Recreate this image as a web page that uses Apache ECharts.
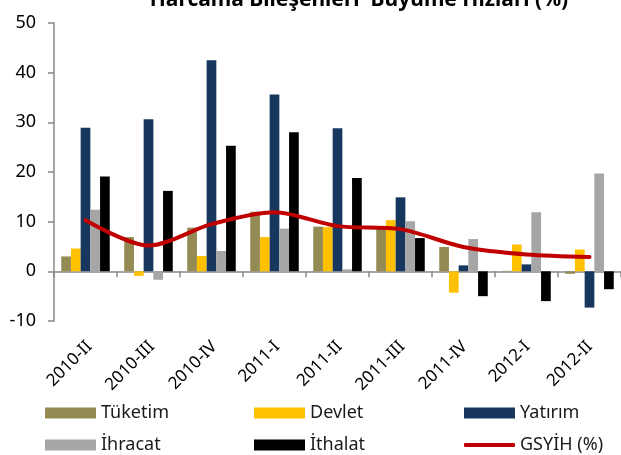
<!DOCTYPE html>
<html>
<head>
<meta charset="utf-8">
<script src="https://cdn.jsdelivr.net/npm/echarts@6/dist/echarts.min.js"></script>
<style>
html,body{margin:0;padding:0;background:#fff;}
#c{width:621px;height:455px;}
</style>
</head>
<body>
<div id="c"></div>
<script>
var categories = ['2010-II','2010-III','2010-IV','2011-I','2011-II','2011-III','2011-IV','2012-I','2012-II'];
var tuketim = [3.0, 6.9, 8.8, 12.0, 9.0, 8.7, 4.9, 0.1, -0.5];
var devlet  = [4.6, -0.9, 3.1, 6.9, 8.9, 10.3, -4.3, 5.4, 4.4];
var yatirim = [28.9, 30.6, 42.5, 35.6, 28.8, 14.9, 1.2, 1.4, -7.3];
var ihracat = [12.4, -1.7, 4.1, 8.6, 0.4, 10.1, 6.5, 11.9, 19.7];
var ithalat = [19.1, 16.2, 25.3, 28.0, 18.8, 6.7, -5.0, -6.0, -3.6];
var gsyih   = [10.3, 5.2, 9.5, 11.9, 9.1, 8.5, 4.9, 3.4, 2.9];
var yTicks = [-10, 0, 10, 20, 30, 40, 50];

var FONT = 'Noto Sans';
var chart = echarts.init(document.getElementById('c'), null, {renderer:'canvas'});
function bar(name, data, color){
  return {name:name, type:'bar', data:data, xAxisIndex:0, yAxisIndex:0,
    barGap:'0%', barCategoryGap:'23%', itemStyle:{color:color}};
}
var legText = {fontSize:18, color:'#1a1a1a', fontFamily:FONT};
function leg(left, top, names, h){
  return {left:left, top:top, orient:'vertical', itemGap:14, itemWidth:51, itemHeight:h, padding:0,
    textStyle:legText, data:names};
}
chart.setOption({
  animation:false,
  textStyle:{fontFamily:FONT},
  title:{text:"Harcama Bileşenleri' Büyüme Hızları (%)", left:354, textAlign:'center', top:-15,
    textStyle:{fontFamily:FONT, fontSize:21, fontWeight:'bold', color:'#000'}},
  grid:[{left:54, right:-2, top:23, bottom:134},
        {left:58, right:-6, top:23, bottom:134}],
  xAxis:[
    {type:'category', data:categories, gridIndex:0,
     axisLine:{onZero:true, lineStyle:{color:'#888', width:1.5}},
     axisTick:{show:true, length:6, lineStyle:{color:'#888', width:1.5}},
     axisLabel:{show:false}},
    {type:'category', data:categories, gridIndex:1, position:'bottom',
     axisLine:{show:false, onZero:false}, axisTick:{show:false},
     axisLabel:{rotate:45, margin:23, fontSize:17, color:'#000', fontFamily:FONT}}
  ],
  yAxis:[{type:'value', min:yTicks[0], max:yTicks[yTicks.length-1], interval:10, gridIndex:0,
    axisLine:{show:true, lineStyle:{color:'#888', width:1.5}},
    axisTick:{show:true, length:6, lineStyle:{color:'#888', width:1.5}},
    splitLine:{show:false},
    axisLabel:{fontSize:18, color:'#000', margin:18, fontFamily:FONT}},
    {type:'value', gridIndex:1, show:false, min:-10, max:50}],
  legend:[
    leg(45, 404, [{name:'Tüketim',icon:'rect'},{name:'İhracat',icon:'rect'}], 11),
    leg(254, 404, [{name:'Devlet',icon:'rect'},{name:'İthalat',icon:'rect'}], 11),
    leg(464, 404, [{name:'Yatırım',icon:'rect'}], 11),
    leg(464, 436, [{name:'GSYİH (%)',icon:'roundRect'}], 4)
  ],
  series:[
    bar('Tüketim', tuketim, '#948A54'),
    bar('Devlet', devlet, '#FFC000'),
    bar('Yatırım', yatirim, '#17375E'),
    bar('İhracat', ihracat, '#A6A6A6'),
    bar('İthalat', ithalat, '#000000'),
    {name:'GSYİH (%)', type:'line', data:gsyih, smooth:0.3, symbol:'none', z:5,
     lineStyle:{color:'#C00000', width:4, cap:'round', join:'round'}, itemStyle:{color:'#C00000'}}
  ]
});
</script>
</body>
</html>
